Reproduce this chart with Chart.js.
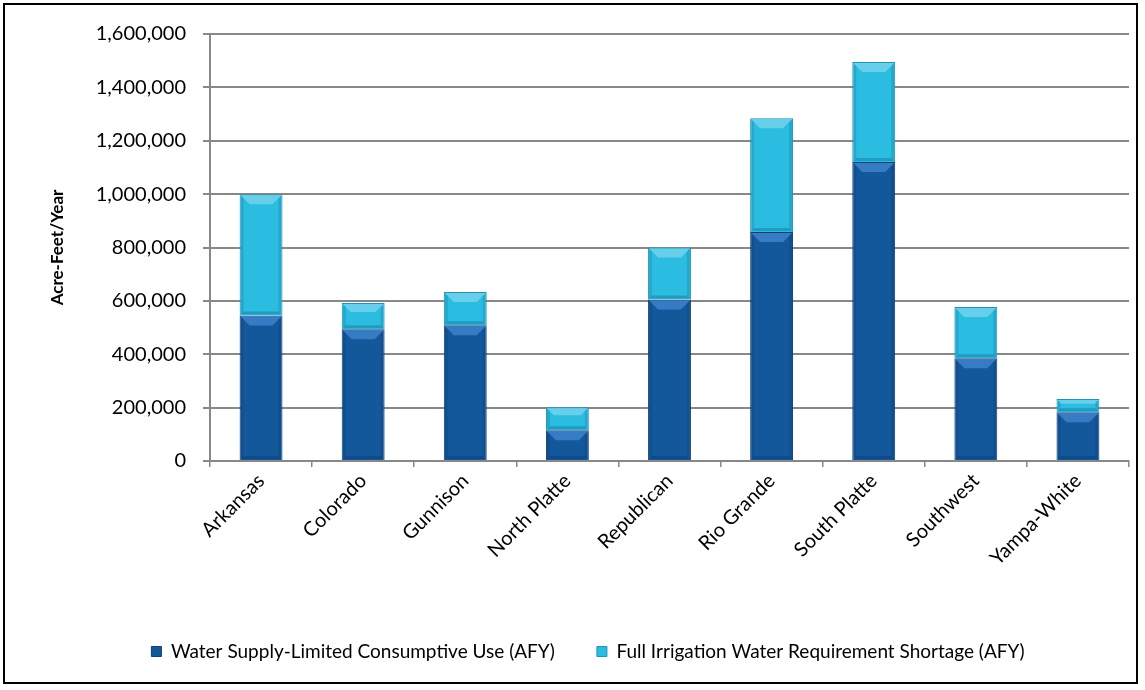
<!DOCTYPE html>
<html>
<head>
<meta charset="utf-8">
<script src="https://cdn.jsdelivr.net/npm/chart.js@4/dist/chart.umd.min.js"></script>
<style>
  body { margin: 0; background: #fff; }
  #frame {
    position: absolute; left: 3px; top: 3px;
    width: 1135px; height: 681px;
    border: 2px solid #000; box-sizing: border-box;
  }
  #chart { display: block; }
</style>
</head>
<body>
<div id="frame"><canvas id="chart" width="1131" height="677"></canvas></div>
<script>
// basins along the x axis
const basins = ['Arkansas', 'Colorado', 'Gunnison', 'North Platte', 'Republican',
                'Rio Grande', 'South Platte', 'Southwest', 'Yampa-White'];

// acre-feet per year
const consumptiveUse = [545000, 494000, 509000, 115000, 605000, 858000, 1120000, 385000, 183000];
const irrigationShortage = [455000, 98000, 124000, 86000, 195000, 426000, 375000, 192000, 49000];

const seriesNames = ['Water Supply-Limited Consumptive Use (AFY)',
                     'Full Irrigation Water Requirement Shortage (AFY)'];

const yTicks = [0, 200000, 400000, 600000, 800000, 1000000, 1200000, 1400000, 1600000];

const fontFamily = 'Lato, "Open Sans", sans-serif';
const bevelTops = ['#3b82cc', '#72d2ea'];

// soft bevel on each bar, like the excel "3D" fill
const bevelPlugin = {
    id: 'bevel',
    afterDatasetsDraw(chart) {
        const c = chart.ctx;
        chart.data.datasets.forEach((ds, di) => {
            chart.getDatasetMeta(di).data.forEach(bar => {
                const p = bar.getProps(['x', 'y', 'base', 'width'], true);
                const left = p.x - p.width / 2 + 1, right = p.x + p.width / 2 - 1;
                const top = Math.min(p.y, p.base) + 1, bottom = Math.max(p.y, p.base) - 1;
                const b = Math.min(9, (bottom - top) / 3);
                const s = 3;
                c.save();
                // top face
                c.fillStyle = bevelTops[di];
                c.globalAlpha = 0.85;
                c.beginPath();
                c.moveTo(left, top); c.lineTo(right, top);
                c.lineTo(right - b, top + b); c.lineTo(left + b, top + b);
                c.closePath(); c.fill();
                c.globalAlpha = 1;
                // sides
                c.fillStyle = 'rgba(0,20,60,0.12)';
                c.beginPath();
                c.moveTo(left, top); c.lineTo(left + s, top + s);
                c.lineTo(left + s, bottom - s); c.lineTo(left, bottom);
                c.closePath(); c.fill();
                c.beginPath();
                c.moveTo(right, top); c.lineTo(right - s, top + s);
                c.lineTo(right - s, bottom - s); c.lineTo(right, bottom);
                c.closePath(); c.fill();
                // bottom
                c.fillStyle = 'rgba(0,20,60,0.2)';
                c.beginPath();
                c.moveTo(left, bottom); c.lineTo(right, bottom);
                c.lineTo(right - s, bottom - s); c.lineTo(left + s, bottom - s);
                c.closePath(); c.fill();
                c.restore();
            });
        });
    }
};

const ctx = document.getElementById('chart').getContext('2d');
new Chart(ctx, {
    type: 'bar',
    data: {
        labels: basins,
        datasets: [{
            label: seriesNames[0],
            data: consumptiveUse,
            backgroundColor: '#14589c',
            borderColor: '#0f3f73',
            borderWidth: 1
        }, {
            label: seriesNames[1],
            data: irrigationShortage,
            backgroundColor: '#2bbde1',
            borderColor: '#1c95b8',
            borderWidth: 1
        }]
    },
    plugins: [bevelPlugin],
    options: {
        responsive: false,
        animation: false,
        layout: { padding: { top: 28, right: 7, bottom: 11, left: 42 } },
        datasets: { bar: { barPercentage: 0.42, categoryPercentage: 1.0 } },
        plugins: {
            title: { display: false },
            tooltip: { enabled: false },
            legend: {
                position: 'bottom',
                labels: {
                    boxWidth: 10,
                    boxHeight: 10,
                    padding: 42,
                    color: '#000',
                    font: { family: fontFamily, size: 19 }
                }
            }
        },
        scales: {
            x: {
                stacked: true,
                grid: {
                    offset: true,
                    drawOnChartArea: false,
                    color: '#888',
                    tickLength: 6,
                    lineWidth: 1.5
                },
                border: { color: '#888', width: 2 },
                ticks: {
                    color: '#000',
                    minRotation: 45,
                    maxRotation: 45,
                    padding: 2,
                    font: { family: fontFamily, size: 20 }
                },
                afterFit: function(scale) { scale.height = 139; }
            },
            y: {
                stacked: true,
                min: 0,
                max: 1600000,
                afterBuildTicks: function(scale) {
                    scale.ticks = yTicks.map(v => ({ value: v }));
                },
                grid: {
                    color: '#888',
                    lineWidth: 2,
                    tickLength: 7
                },
                border: { color: '#888', width: 2 },
                ticks: {
                    color: '#000',
                    padding: 17,
                    font: { family: fontFamily, size: 20 },
                    callback: v => v.toLocaleString('en-US')
                },
                title: {
                    display: true,
                    text: 'Acre-Feet/Year',
                    color: '#000',
                    font: { family: fontFamily, size: 17, weight: 'bold' },
                    padding: { top: 0, bottom: 10 }
                },
                afterFit: function(scale) { scale.width = 163; }
            }
        }
    }
});
</script>
</body>
</html>
